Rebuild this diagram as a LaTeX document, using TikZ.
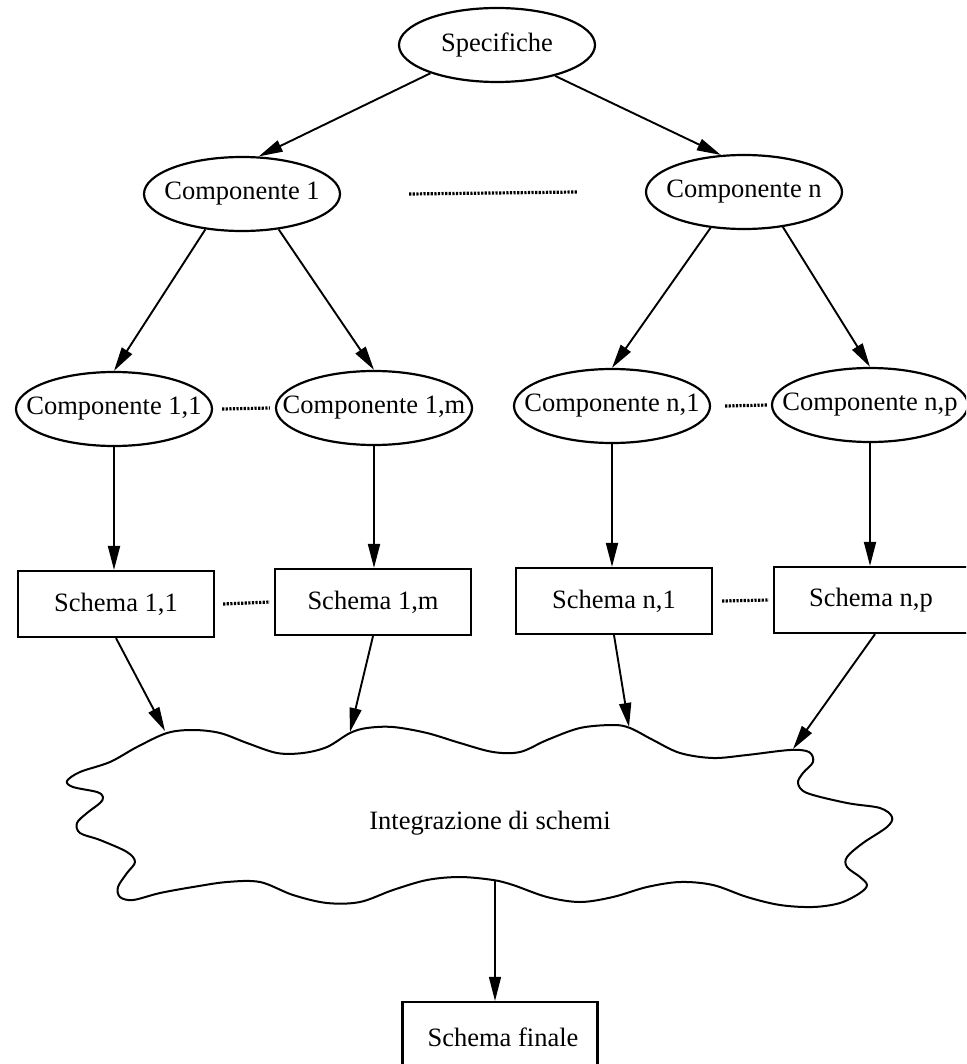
\documentclass[tikz,border=0pt]{standalone}
\usepackage{fontspec}
\setmainfont{Liberation Serif}
\usetikzlibrary{shapes.geometric,arrows.meta,calc}

\begin{document}
\begin{tikzpicture}[x=1pt,y=-1pt,
  every node/.style={font=\fontsize{26.5}{30}\selectfont},
  comp/.style={draw, ellipse, line width=2.2pt, minimum width=196pt,
    minimum height=74pt, inner xsep=-40pt, inner ysep=0pt},
  schbox/.style={draw, rectangle, line width=2.2pt, minimum width=196pt,
    minimum height=66pt},
  flow/.style={-{Triangle[length=24pt,width=12pt]}, line width=1.9pt},
  gap/.style={line width=3.2pt, dash pattern=on 2.2pt off 1.4pt}]

\useasboundingbox (0,0) rectangle (966,1064);
\clip (0,0) rectangle (966,1064);

% requirements and their components
\node[comp] (spec) at (497,45) {Specifiche};
\node[comp] (c1) at (242,194) {Componente 1};
\node[comp] (cn) at (744,192) {Componente n};

\node[comp] (c11) at (114,409) {Componente 1,1};
\node[comp] (c1m) at (374,408) {Componente 1,m};
\node[comp] (cn1) at (612,406) {Componente n,1};
\node[comp] (cnp) at (870,405) {Componente n,p};

% partial schemas
\node[schbox] (s11) at (116,604) {Schema 1,1};
\node[schbox] (s1m) at (373,602) {Schema 1,m};
\node[schbox] (sn1) at (614,601) {Schema n,1};
\node[schbox, minimum width=194pt] (snp) at (871,600) {Schema n,p};

% final schema
\node[schbox, minimum width=195pt, minimum height=68pt] (sf) at (500,1036) {};
\node (sftext) at (503,1037) {Schema finale};

% integration cloud
\draw[line width=2pt] plot[smooth cycle, tension=0.55] coordinates {
  (67,781) (80,772) (110,762) (137,747) (167,733) (193,730) (220,733)
  (247,743) (277,753) (303,753) (327,747) (350,733) (367,728) (393,727)
  (427,733) (460,743) (493,752) (520,752) (547,740) (580,728) (613,725)
  (630,728) (653,740) (680,753) (713,758) (747,755) (790,750) (809,752)
  (813,762) (803,773) (798,783) (807,793) (847,803) (880,808) (892,817)
  (887,827) (863,843) (847,857) (847,867) (860,877) (867,885) (860,893)
  (840,903) (813,907) (780,905) (747,897) (713,885) (680,882) (647,887)
  (613,897) (580,902) (547,897) (513,885) (493,880) (460,877) (427,880)
  (393,890) (360,902) (327,903) (293,895) (260,882) (227,882) (193,887)
  (160,893) (133,900) (120,897) (118,887) (127,873) (135,862) (127,852)
  (100,840) (80,833) (77,823) (87,813) (100,803) (103,797) (97,792)
  (73,787)};
\node (integ) at (490,823) {Integrazione di schemi};

% arrow tips on the cloud border
\coordinate (t1) at (165,731);
\coordinate (t2) at (350,732);
\coordinate (t3) at (629,727);
\coordinate (t4) at (793,749);
\coordinate (cb) at (495,880);

% decomposition arrows
\draw[flow] (spec.203) -- (c1.66);
\draw[flow] (spec.332) -- (cn.122);
\draw[flow] (c1.224) -- (c11.north);
\draw[flow] (c1.316) -- (c1m.north);
\draw[flow] (cn.227) -- (cn1.north);
\draw[flow] (cn.318) -- (cnp.north);

\draw[flow] (c11.south) -- (c11.south |- s11.north);
\draw[flow] (c1m.south) -- (c1m.south |- s1m.north);
\draw[flow] (cn1.south) -- (cn1.south |- sn1.north);
\draw[flow] (cnp.south) -- (cnp.south |- snp.north);

% arrows into the integration step
\draw[flow] (s11.south) -- (t1);
\draw[flow] (s1m.south) -- (t2);
\draw[flow] (sn1.south) -- (t3);
\draw[flow] ($(snp.south)+(4,0)$) -- (t4);
\draw[flow, line width=1.4pt] (cb) -- (cb |- sf.north);

% dotted separators
\draw[gap] ($(c1.east)+(68,0)$) -- ($(cn.west)+(-68,0)$);
\draw[gap] ($(c11.east)+(9,0)$) -- ($(c1m.west)+(-5,0)$);
\draw[gap] ($(cn1.east)+(14,0)$) -- ($(cnp.west)+(-3,0)$);
\draw[gap] ($(s11.east)+(8,0)$) -- ($(s1m.west)+(-4,0)$);
\draw[gap] ($(sn1.east)+(9,0)$) -- ($(snp.west)+(-4,0)$);
\end{tikzpicture}
\end{document}
